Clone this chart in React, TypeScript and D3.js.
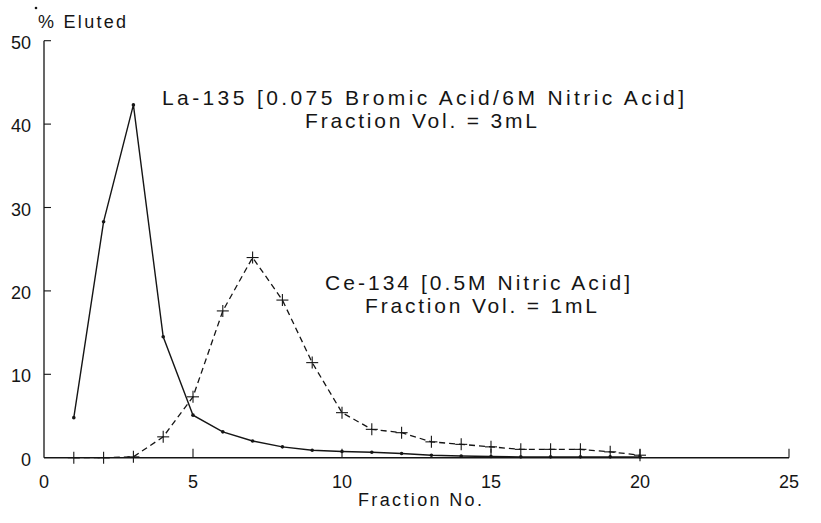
import React from 'react';
import * as d3 from 'd3';

const fractions = [1, 2, 3, 4, 5, 6, 7, 8, 9, 10, 11, 12, 13, 14, 15, 16, 17, 18, 19, 20];
const la135 = [4.8, 28.3, 42.3, 14.5, 5.1, 3.1, 2.0, 1.3, 0.9, 0.75, 0.65, 0.5, 0.3, 0.2, 0.15, 0.1, 0.1, 0.1, 0.1, 0.1];
const ce134 = [0, 0, 0.1, 2.5, 7.3, 17.6, 24.0, 18.9, 11.4, 5.4, 3.4, 3.0, 1.9, 1.6, 1.3, 1.0, 1.0, 1.0, 0.7, 0.3];
const xTicks = [0, 5, 10, 15, 20, 25];
const yTicks = [0, 10, 20, 30, 40, 50];
const yLabel = '% Eluted';
const xLabel = 'Fraction No.';
const laTitle = ['La-135 [0.075 Bromic Acid/6M Nitric Acid]', 'Fraction Vol. = 3mL'];
const ceTitle = ['Ce-134 [0.5M Nitric Acid]', 'Fraction Vol. = 1mL'];

const FONT = '"Liberation Sans", Arial, Helvetica, sans-serif';
const INK = '#151515';

export default function App() {
  const x = d3.scaleLinear().domain([0, 25]).range([44, 789]);
  const y = d3.scaleLinear().domain([0, 50]).range([457.7, 40.7]);
  const seriesLine = d3
    .line<number>()
    .x((_, i) => x(fractions[i]))
    .y((d) => y(d));
  const x0 = x(0);
  const y0 = y(0);

  return (
    <svg
      width={821}
      height={523}
      style={{ position: 'absolute', left: 0, top: 0, background: '#fff' }}
      fontFamily={FONT}
    >
      <rect x={0} y={0} width={821} height={523} fill="#fff" />
      <circle cx={36} cy={8} r={1.3} fill={INK} />
      {/* axes */}
      <line x1={x0} y1={y(50)} x2={x0} y2={y0} stroke={INK} strokeWidth={1.3} />
      <line x1={x0} y1={y0} x2={x(25)} y2={y0} stroke={INK} strokeWidth={1.6} />
      {yTicks.map((t) => (
        <g key={'y' + t}>
          {t > 0 && <line x1={x0} x2={x0 + 7} y1={y(t)} y2={y(t)} stroke={INK} strokeWidth={1.1} />}
          <text x={31} y={y(t) + 8} textAnchor="end" fontSize={18} fill={INK}>
            {t}
          </text>
        </g>
      ))}
      {xTicks.map((t) => (
        <g key={'x' + t}>
          {t > 0 && <line x1={x(t)} x2={x(t)} y1={y0} y2={y0 - 9} stroke={INK} strokeWidth={1.1} />}
          <text x={x(t)} y={488} textAnchor="middle" fontSize={18} fill={INK}>
            {t}
          </text>
        </g>
      ))}
      <text x={38} y={28} fontSize={18} fill={INK} textLength={88} lengthAdjust="spacing">
        {yLabel}
      </text>
      <text x={358} y={506} fontSize={18} fill={INK} textLength={124} lengthAdjust="spacing">
        {xLabel}
      </text>

      {/* La-135 solid */}
      <path d={seriesLine(la135) || ''} fill="none" stroke={INK} strokeWidth={1.4} />
      {la135.map((d, i) => (
        <circle key={'la' + i} cx={x(fractions[i])} cy={y(d)} r={1.8} fill={INK} />
      ))}

      {/* Ce-134 dashed */}
      <path d={seriesLine(ce134) || ''} fill="none" stroke={INK} strokeWidth={1.3} strokeDasharray="6,4" />
      {ce134.map((d, i) => (
        <g key={'ce' + i} stroke={INK} strokeWidth={1.1}>
          <line x1={x(fractions[i]) - 6} x2={x(fractions[i]) + 6} y1={y(d)} y2={y(d)} />
          <line x1={x(fractions[i])} x2={x(fractions[i])} y1={y(d) - 6} y2={y(d) + 6} />
        </g>
      ))}

      {/* annotations */}
      <text x={162} y={105} fontSize={21} fill={INK} textLength={522} lengthAdjust="spacing">
        {laTitle[0]}
      </text>
      <text x={305} y={128} fontSize={21} fill={INK} textLength={232} lengthAdjust="spacing">
        {laTitle[1]}
      </text>
      <text x={325} y={290} fontSize={21} fill={INK} textLength={305} lengthAdjust="spacing">
        {ceTitle[0]}
      </text>
      <text x={365} y={313} fontSize={21} fill={INK} textLength={232} lengthAdjust="spacing">
        {ceTitle[1]}
      </text>
    </svg>
  );
}
